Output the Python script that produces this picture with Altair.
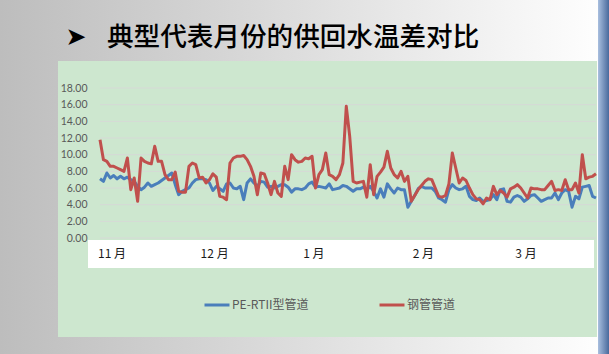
import altair as alt
import pandas as pd

# ---------------- data ----------------
title_text = "典型代表月份的供回水温差对比"
arrow_text = "➤"
series_names = ["PE-RTII型管道", "钢管管道"]
series_colors = ["#4A7EBB", "#C0504D"]

pe_values = [
    7.1, 6.8, 7.8, 7.2, 7.5, 7.1, 7.4, 7.1, 7.3, 7.0, 6.8, 6.2, 5.8, 6.1, 6.6,
    6.2, 6.4, 6.6, 6.9, 7.2, 7.5, 7.8, 6.4, 5.2, 5.6, 5.8, 6.0, 6.6, 7.0, 7.1,
    7.1, 7.0, 6.6, 5.7, 6.2, 5.9, 5.6, 6.5, 6.6, 6.0, 5.9, 6.2, 4.6, 6.6, 7.1,
    6.6, 6.2, 6.8, 6.7, 6.1, 6.2, 6.0, 6.2, 6.4, 6.4, 6.1, 5.5, 5.9,
    5.9, 5.8, 6.0, 6.5, 6.7, 6.1, 6.2, 6.1, 6.0, 6.5, 5.8, 5.9, 6.0, 6.3, 6.2,
    5.9, 5.6, 5.9, 5.9, 6.1, 5.8, 6.2, 5.6, 4.8, 5.9, 4.9, 6.5, 5.9, 5.4, 6.0,
    5.8, 5.8, 3.7, 4.4, 5.1, 5.9, 6.2, 6.0, 6.0, 6.0, 5.6, 4.8, 4.6, 4.3, 5.8,
    6.4, 6.0, 5.8, 5.9, 6.2, 5.0, 4.6, 4.5, 4.8, 4.4, 4.5, 4.6, 5.2, 4.6, 5.8,
    5.9, 4.4, 4.3, 4.9, 5.1, 4.9, 4.4, 4.7, 5.1, 5.2, 4.8, 4.4, 4.6, 4.8, 4.8,
    5.4, 4.6, 5.4, 5.8, 5.6, 3.7, 5.0, 4.7, 6.1, 6.2, 6.3, 5.0, 4.8,
]

steel_values = [
    11.8, 9.4, 9.2, 8.6, 8.6, 8.4, 8.2, 8.0, 9.6, 5.8, 7.2, 4.4, 9.6, 9.2, 9.0,
    8.9, 11.0, 9.2, 9.2, 7.6, 7.0, 7.0, 7.9, 5.6, 5.5, 5.5, 8.6, 9.0, 8.8, 7.2,
    7.3, 6.6, 7.0, 7.7, 7.3, 5.0, 4.9, 4.6, 9.0, 9.6, 9.8, 9.8, 9.9, 9.4, 8.6,
    7.4, 5.2, 7.8, 7.7, 6.6, 5.2, 6.8, 5.4, 5.0, 8.6, 7.0, 10.0, 9.4,
    9.1, 9.2, 9.6, 9.5, 9.8, 6.0, 7.6, 8.2, 10.2, 7.6, 7.4, 7.0, 7.6, 9.0, 15.8,
    12.2, 6.8, 6.6, 6.7, 6.8, 4.9, 8.8, 5.2, 7.4, 7.9, 8.5, 10.4, 8.4, 7.6, 7.2,
    8.0, 6.8, 7.4, 4.4, 5.1, 5.8, 6.3, 6.8, 7.1, 7.0, 6.0, 5.0, 4.9, 5.1, 6.5,
    10.2, 8.4, 6.6, 7.2, 6.9, 6.0, 5.2, 4.7, 4.6, 4.1, 4.8, 4.6, 6.2, 5.2, 5.7,
    5.4, 4.9, 5.9, 6.1, 6.4, 6.0, 5.4, 4.8, 6.0, 5.9, 5.9, 5.8, 5.8, 6.3, 6.8,
    5.7, 5.8, 5.7, 7.0, 5.8, 5.8, 6.6, 5.4, 10.0, 7.1, 7.3, 7.4, 7.7,
]

month_labels = ["11 月", "12 月", "1 月", "2 月", "3 月"]
month_index = [0, 30, 60, 92, 122]
y_ticks = [0, 2, 4, 6, 8, 10, 12, 14, 16, 18]

# ---------------- layout ----------------
W, H = 496, 150
PAD_L, PAD_T, PAD_R, PAD_B = 100, 88, 13, 116
N = len(pe_values)

df = pd.DataFrame({
    "day": list(range(len(pe_values))) + list(range(len(steel_values))),
    "value": pe_values + steel_values,
    "series": [series_names[0]] * len(pe_values) + [series_names[1]] * len(steel_values),
})
grid_df = pd.DataFrame({"value": y_ticks})
month_df = pd.DataFrame({"day": month_index, "label": month_labels})
one = pd.DataFrame({"k": [0]})

xscale = alt.Scale(domain=[0, N - 1], nice=False, zero=False)
yscale = alt.Scale(domain=[0, 18], nice=False)
yaxis = alt.Axis(values=y_ticks, format=".2f", labelFont="Lato", labelFontSize=10.5,
                 labelColor="#595959", domain=False, ticks=False, grid=False,
                 labelPadding=13, title=None, zindex=1)

bg_grad = alt.Gradient(gradient="linear",
                       stops=[alt.GradientStop(color="#bdbdbd", offset=0),
                              alt.GradientStop(color="#ffffff", offset=1)],
                       x1=0, x2=1, y1=0, y2=0)
blue_grad = alt.Gradient(gradient="linear",
                         stops=[alt.GradientStop(color="#a9bfdf", offset=0),
                                alt.GradientStop(color="#4a6a9c", offset=1)],
                         x1=0, x2=1, y1=0, y2=0)

background = alt.Chart(one).mark_rect(fill=bg_grad, strokeWidth=0).encode(
    x=alt.value(-PAD_L), x2=alt.value(W + PAD_R), y=alt.value(-PAD_T), y2=alt.value(H + PAD_B))
strip = alt.Chart(one).mark_rect(fill=blue_grad, strokeWidth=0).encode(
    x=alt.value(498), x2=alt.value(W + PAD_R), y=alt.value(-PAD_T), y2=alt.value(H + PAD_B))
green = alt.Chart(one).mark_rect(fill="#CDE7CF", strokeWidth=0).encode(
    x=alt.value(-42), x2=alt.value(497), y=alt.value(-27), y2=alt.value(249))
band = alt.Chart(one).mark_rect(fill="#ffffff", strokeWidth=0).encode(
    x=alt.value(-12), x2=alt.value(494), y=alt.value(152), y2=alt.value(180))

grid = alt.Chart(grid_df).mark_rule(color="#D6D9D6", strokeWidth=1).encode(
    y=alt.Y("value:Q", scale=yscale, axis=yaxis))

lines = alt.Chart(df).mark_line(strokeWidth=3, strokeJoin="round").encode(
    x=alt.X("day:Q", scale=xscale, axis=None),
    y=alt.Y("value:Q", scale=yscale, axis=yaxis),
    color=alt.Color("series:N", sort=series_names,
                    scale=alt.Scale(domain=series_names, range=series_colors),
                    legend=alt.Legend(title=None, orient="none", legendX=103, legendY=203,
                                      direction="horizontal", symbolType="stroke",
                                      symbolSize=625, symbolStrokeWidth=3,
                                      labelFont="Noto Sans CJK SC", labelFontSize=12,
                                      labelColor="#595959", labelOffset=1,
                                      columnPadding=64, zindex=1)),
    order=alt.value(0),
)

months = alt.Chart(month_df).mark_text(align="left", baseline="middle", fontSize=12,
                                       font="Noto Sans CJK SC", color="#1a1a1a", dx=-2).encode(
    x=alt.X("day:Q", scale=xscale, axis=None), y=alt.value(166), text="label:N")

title = alt.Chart(one).mark_text(align="left", baseline="middle", fontSize=26.6,
                                 font="Noto Sans CJK SC", fontWeight=500, color="#000000",
                                 text=title_text).encode(
    x=alt.value(7), y=alt.value(38 - PAD_T))
arrow = alt.Chart(one).mark_text(align="center", baseline="middle", fontSize=25,
                                 font="DejaVu Sans", color="#000000",
                                 text=arrow_text).encode(
    x=alt.value(76 - PAD_L), y=alt.value(37 - PAD_T))

chart = alt.layer(background, strip, green, band, grid, lines, months, title, arrow).properties(
    width=W, height=H,
    autosize=alt.AutoSizeParams(type="none"),
    padding={"left": PAD_L, "top": PAD_T, "right": PAD_R, "bottom": PAD_B},
).configure_view(strokeWidth=0)

chart.save("out.html", embed_options={"renderer": "svg", "actions": False})
